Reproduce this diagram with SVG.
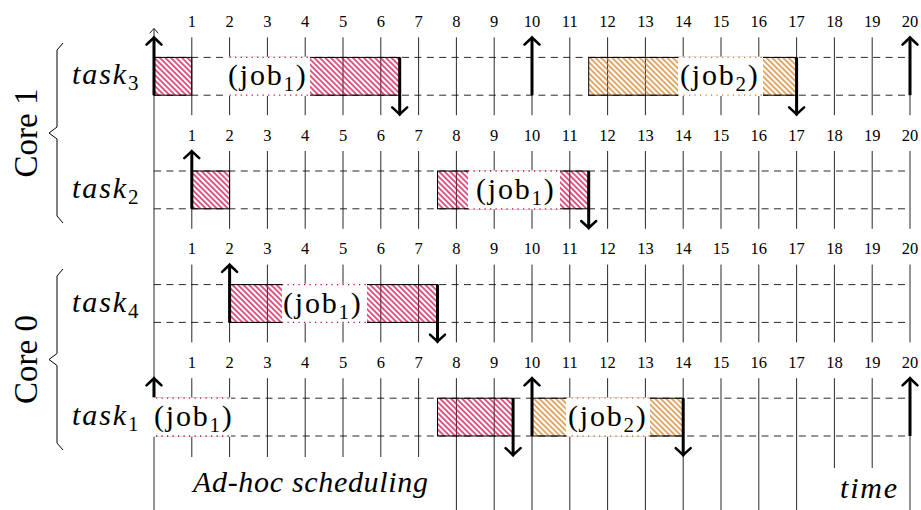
<svg xmlns="http://www.w3.org/2000/svg" width="921" height="510" viewBox="0 0 921 510" font-family="'Liberation Serif', 'DejaVu Serif', serif">
<style>
text{font-family:'Liberation Serif','DejaVu Serif',serif;fill:#000}
.num{font-size:16.5px;text-anchor:middle}
.task{font-size:30px;font-style:italic;letter-spacing:1.9px}
.sub{font-size:21px}
.job{font-size:30px;letter-spacing:1.8px}
.core{font-size:33px;text-anchor:middle}
.it{font-size:30px;font-style:italic}
.tick{stroke:#111;stroke-width:0.9;fill:none}
.dash{stroke:#111;stroke-width:0.9;stroke-dasharray:7 5.4;fill:none}
.red{fill:url(#hr);stroke:#000;stroke-width:1}
.org{fill:url(#ho);stroke:#000;stroke-width:1}
.wb{fill:#fff;stroke:none}
.dr{stroke:#cc0040;stroke-width:1.3;stroke-dasharray:1.2 4.3;fill:none}
.do{stroke:#d07a1c;stroke-width:1.3;stroke-dasharray:1.2 4.3;fill:none}
.arr{stroke:#000;stroke-width:3;fill:none;marker-end:url(#ah)}
.brace{stroke:#000;stroke-width:1;fill:none}
</style>
<defs>
<pattern id="hr" patternUnits="userSpaceOnUse" width="3.9" height="10" patternTransform="rotate(-45)">
<line x1="1.95" y1="-1" x2="1.95" y2="11" stroke="#cc0040" stroke-width="1.3"/>
</pattern>
<pattern id="ho" patternUnits="userSpaceOnUse" width="3.9" height="10" patternTransform="rotate(-45)">
<line x1="1.95" y1="-1" x2="1.95" y2="11" stroke="#d07a1c" stroke-width="1.3"/>
</pattern>
<marker id="ah" markerUnits="userSpaceOnUse" markerWidth="20" markerHeight="20" refX="0" refY="0" orient="auto" style="overflow:visible">
<path d="M-6,-7.5 Q-1,-2 1.2,0 Q-1,2 -6,7.5" stroke="#000" stroke-width="2.5" fill="none" stroke-linecap="round"/>
</marker>
<marker id="ah2" markerUnits="userSpaceOnUse" markerWidth="10" markerHeight="10" refX="0" refY="0" orient="auto" style="overflow:visible">
<path d="M-4.5,-4 Q-1,-1 0,0 Q-1,1 -4.5,4" stroke="#000" stroke-width="0.9" fill="none" stroke-linecap="round"/>
</marker>
</defs>

<g id="grid">
<path class="dash" d="M154,57.4H910M154,95.2H910M154,171H910M154,208.8H910M154,284.6H910M154,322.4H910M154,398.2H910M154,436H910"/>
<path class="tick" d="M191.8,37.4V115.2M229.6,37.4V115.2M267.4,37.4V115.2M305.2,37.4V115.2M343,37.4V115.2M380.8,37.4V115.2M418.6,37.4V115.2M456.4,37.4V115.2M494.2,37.4V115.2M532,37.4V115.2M569.8,37.4V115.2M607.6,37.4V115.2M645.4,37.4V115.2M683.2,37.4V115.2M721,37.4V115.2M758.8,37.4V115.2M796.6,37.4V115.2M834.4,37.4V115.2M872.2,37.4V115.2M910,37.4V115.2"/>
<path class="tick" d="M191.8,151V228.8M229.6,151V228.8M267.4,151V228.8M305.2,151V228.8M343,151V228.8M380.8,151V228.8M418.6,151V228.8M456.4,151V228.8M494.2,151V228.8M532,151V228.8M569.8,151V228.8M607.6,151V228.8M645.4,151V228.8M683.2,151V228.8M721,151V228.8M758.8,151V228.8M796.6,151V228.8M834.4,151V228.8M872.2,151V228.8M910,151V228.8"/>
<path class="tick" d="M191.8,264.6V342.4M229.6,264.6V342.4M267.4,264.6V342.4M305.2,264.6V342.4M343,264.6V342.4M380.8,264.6V342.4M418.6,264.6V342.4M456.4,264.6V342.4M494.2,264.6V342.4M532,264.6V342.4M569.8,264.6V342.4M607.6,264.6V342.4M645.4,264.6V342.4M683.2,264.6V342.4M721,264.6V342.4M758.8,264.6V342.4M796.6,264.6V342.4M834.4,264.6V342.4M872.2,264.6V342.4M910,264.6V342.4"/>
<path class="tick" d="M191.8,378.2V510M229.6,378.2V510M267.4,378.2V510M305.2,378.2V510M343,378.2V510M380.8,378.2V510M418.6,378.2V510M456.4,378.2V510M494.2,378.2V510M532,378.2V510M569.8,378.2V510M607.6,378.2V510M645.4,378.2V510M683.2,378.2V510M721,378.2V510M758.8,378.2V510M796.6,378.2V510M834.4,378.2V510M872.2,378.2V510M910,378.2V510"/>
<path class="tick" d="M154,510V28.5" marker-end="url(#ah2)"/>
<g id="nums3">
<text class="num" x="191.8" y="26.9">1</text><text class="num" x="229.6" y="26.9">2</text><text class="num" x="267.4" y="26.9">3</text><text class="num" x="305.2" y="26.9">4</text><text class="num" x="343" y="26.9">5</text><text class="num" x="380.8" y="26.9">6</text><text class="num" x="418.6" y="26.9">7</text><text class="num" x="456.4" y="26.9">8</text><text class="num" x="494.2" y="26.9">9</text><text class="num" x="532" y="26.9">10</text><text class="num" x="569.8" y="26.9">11</text><text class="num" x="607.6" y="26.9">12</text><text class="num" x="645.4" y="26.9">13</text><text class="num" x="683.2" y="26.9">14</text><text class="num" x="721" y="26.9">15</text><text class="num" x="758.8" y="26.9">16</text><text class="num" x="796.6" y="26.9">17</text><text class="num" x="834.4" y="26.9">18</text><text class="num" x="872.2" y="26.9">19</text><text class="num" x="910" y="26.9">20</text>
</g>
<g id="nums2">
<text class="num" x="191.8" y="140.5">1</text><text class="num" x="229.6" y="140.5">2</text><text class="num" x="267.4" y="140.5">3</text><text class="num" x="305.2" y="140.5">4</text><text class="num" x="343" y="140.5">5</text><text class="num" x="380.8" y="140.5">6</text><text class="num" x="418.6" y="140.5">7</text><text class="num" x="456.4" y="140.5">8</text><text class="num" x="494.2" y="140.5">9</text><text class="num" x="532" y="140.5">10</text><text class="num" x="569.8" y="140.5">11</text><text class="num" x="607.6" y="140.5">12</text><text class="num" x="645.4" y="140.5">13</text><text class="num" x="683.2" y="140.5">14</text><text class="num" x="721" y="140.5">15</text><text class="num" x="758.8" y="140.5">16</text><text class="num" x="796.6" y="140.5">17</text><text class="num" x="834.4" y="140.5">18</text><text class="num" x="872.2" y="140.5">19</text><text class="num" x="910" y="140.5">20</text>
</g>
<g id="nums4">
<text class="num" x="191.8" y="254.1">1</text><text class="num" x="229.6" y="254.1">2</text><text class="num" x="267.4" y="254.1">3</text><text class="num" x="305.2" y="254.1">4</text><text class="num" x="343" y="254.1">5</text><text class="num" x="380.8" y="254.1">6</text><text class="num" x="418.6" y="254.1">7</text><text class="num" x="456.4" y="254.1">8</text><text class="num" x="494.2" y="254.1">9</text><text class="num" x="532" y="254.1">10</text><text class="num" x="569.8" y="254.1">11</text><text class="num" x="607.6" y="254.1">12</text><text class="num" x="645.4" y="254.1">13</text><text class="num" x="683.2" y="254.1">14</text><text class="num" x="721" y="254.1">15</text><text class="num" x="758.8" y="254.1">16</text><text class="num" x="796.6" y="254.1">17</text><text class="num" x="834.4" y="254.1">18</text><text class="num" x="872.2" y="254.1">19</text><text class="num" x="910" y="254.1">20</text>
</g>
<g id="nums1">
<text class="num" x="191.8" y="367.7">1</text><text class="num" x="229.6" y="367.7">2</text><text class="num" x="267.4" y="367.7">3</text><text class="num" x="305.2" y="367.7">4</text><text class="num" x="343" y="367.7">5</text><text class="num" x="380.8" y="367.7">6</text><text class="num" x="418.6" y="367.7">7</text><text class="num" x="456.4" y="367.7">8</text><text class="num" x="494.2" y="367.7">9</text><text class="num" x="532" y="367.7">10</text><text class="num" x="569.8" y="367.7">11</text><text class="num" x="607.6" y="367.7">12</text><text class="num" x="645.4" y="367.7">13</text><text class="num" x="683.2" y="367.7">14</text><text class="num" x="721" y="367.7">15</text><text class="num" x="758.8" y="367.7">16</text><text class="num" x="796.6" y="367.7">17</text><text class="num" x="834.4" y="367.7">18</text><text class="num" x="872.2" y="367.7">19</text><text class="num" x="910" y="367.7">20</text>
</g>
</g>

<g id="core1">
<text class="core" transform="translate(37,133) rotate(-90)">Core 1</text>
<path class="brace" d="M63,43 L57,50 L57,127 L49,133 L57,139 L57,216 L63,223"/>
</g>
<g id="core0">
<text class="core" transform="translate(37,359.5) rotate(-90)">Core 0</text>
<path class="brace" d="M63,269 L57,276 L57,353.5 L49,359.5 L57,365.5 L57,443 L63,450"/>
</g>

<g id="task3">
<text class="task" x="72" y="84.4">task</text><text class="sub" x="128" y="90.4">3</text>
<rect class="red" x="154" y="57.4" width="37.8" height="37.8"/>
<rect class="red" x="229.6" y="57.4" width="170.1" height="37.8"/>
<rect class="org" x="588.7" y="57.4" width="207.9" height="37.8"/>
</g>
<g id="task2">
<text class="task" x="72" y="198">task</text><text class="sub" x="128" y="204">2</text>
<rect class="red" x="191.8" y="171" width="37.8" height="37.8"/>
<rect class="red" x="437.5" y="171" width="151.2" height="37.8"/>
</g>
<g id="task4">
<text class="task" x="72" y="311.6">task</text><text class="sub" x="128" y="317.6">4</text>
<rect class="red" x="229.6" y="284.6" width="207.9" height="37.8"/>
</g>
<g id="task1">
<text class="task" x="72" y="425.2">task</text><text class="sub" x="128" y="431.2">1</text>
<rect class="red" x="154" y="398.2" width="75.6" height="37.8"/>
<rect class="red" x="437.5" y="398.2" width="75.6" height="37.8"/>
<rect class="org" x="532" y="398.2" width="151.2" height="37.8"/>
</g>

<g id="connectors">
<path class="arr" d="M154,95.2V38.6"/>
<path class="arr" d="M532,95.2V38.6"/>
<path class="arr" d="M910,95.2V38.6"/>
<path class="arr" d="M399.7,57.4V113.4"/>
<path class="arr" d="M796.6,57.4V113.4"/>
<path class="arr" d="M191.8,208.8V152.2"/>
<path class="arr" d="M588.7,171V227"/>
<path class="arr" d="M229.6,322.4V265.8"/>
<path class="arr" d="M437.5,284.6V340.6"/>
<path class="arr" d="M154,436V379.4"/>
<path class="arr" d="M532,436V379.4"/>
<path class="arr" d="M910,436V379.4"/>
<path class="arr" d="M513.1,398.2V454.2"/>
<path class="arr" d="M683.2,398.2V454.2"/>
</g>

<g id="job-labels">
<g id="t3j1">
<rect class="wb" x="226" y="56.6" width="84" height="39.4"/>
<path class="dr" d="M229.6,57.4H310M229.6,95.2H310"/>
<text class="job" x="228" y="85.4">(job<tspan class="sub" dy="6">1</tspan><tspan dy="-6">)</tspan></text>
</g>
<g id="t3j2">
<rect class="wb" x="678" y="56.6" width="85" height="39.4"/>
<path class="do" d="M678,57.4H763M678,95.2H763"/>
<text class="job" x="680" y="85.4">(job<tspan class="sub" dy="6">2</tspan><tspan dy="-6">)</tspan></text>
</g>
<g id="t2j1">
<rect class="wb" x="468" y="170.2" width="92" height="39.4"/>
<path class="dr" d="M468,171H560M468,208.8H560"/>
<text class="job" x="476" y="199">(job<tspan class="sub" dy="6">1</tspan><tspan dy="-6">)</tspan></text>
</g>
<g id="t4j1">
<rect class="wb" x="282" y="283.8" width="85" height="39.4"/>
<path class="dr" d="M282,284.6H367M282,322.4H367"/>
<text class="job" x="283" y="312.6">(job<tspan class="sub" dy="6">1</tspan><tspan dy="-6">)</tspan></text>
</g>
<g id="t1j1">
<rect class="wb" x="152" y="397.4" width="79" height="39.4"/>
<path class="dr" d="M156,398.2H229.6M156,436H229.6"/>
<text class="job" x="154" y="426.2">(job<tspan class="sub" dy="6">1</tspan><tspan dy="-6">)</tspan></text>
</g>
<g id="t1j2">
<rect class="wb" x="566" y="397.4" width="84" height="39.4"/>
<path class="do" d="M566,398.2H650M566,436H650"/>
<text class="job" x="568" y="426.2">(job<tspan class="sub" dy="6">2</tspan><tspan dy="-6">)</tspan></text>
</g>
</g>

<g id="caption">
<rect class="wb" x="160" y="457" width="285" height="53"/>
<text class="it" x="193" y="492" textLength="235" lengthAdjust="spacing">Ad-hoc scheduling</text>
</g>
<g id="time-label">
<rect class="wb" x="815" y="468" width="90" height="42"/>
<text class="it" x="840" y="498" style="letter-spacing:1.8px">time</text>
</g>
</svg>
